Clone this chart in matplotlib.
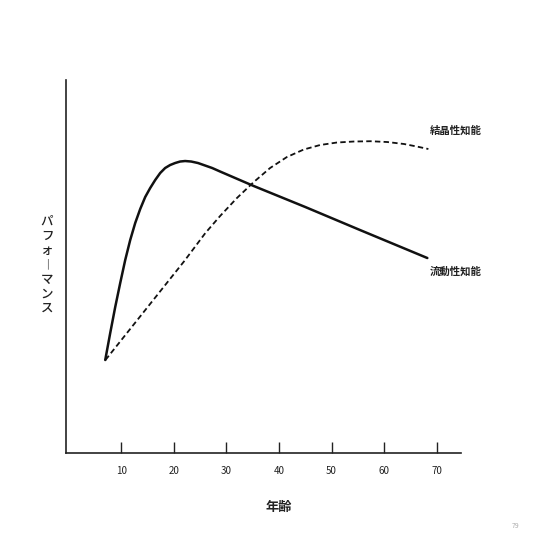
import matplotlib as mpl
mpl.use('agg')
import matplotlib.pyplot as plt

plt.rcParams['font.family'] = ['Noto Sans CJK JP', 'DejaVu Sans']

# age (years) vs performance (arbitrary units)
fluid_age = [6.96, 7.91, 8.86, 9.81, 10.76, 11.71, 12.66, 13.61, 14.56, 15.51, 16.46, 17.41,
             18.35, 19.3, 20.25, 21.2, 22.15, 23.3, 24.6, 25.95, 27.3, 28.8, 35.2, 45, 55.4, 68.2]
fluid_perf = [93, 120, 146, 170, 193, 213, 230, 244, 256, 265, 273, 280,
              285, 288, 290, 291.5, 292, 291.5, 290, 287.5, 285, 281.5, 267, 246, 223, 195]

cryst_age = [7, 12, 17, 22, 26, 28.8, 32, 35.2, 38.3, 41.5, 44.7, 47.8, 51, 54.2,
             57.4, 60.6, 63.8, 66.2, 68.4]
cryst_perf = [93, 126, 159, 192, 220, 237, 255, 271, 285, 296, 303.5, 308, 310.5, 311.5,
              311.8, 311, 309, 306.5, 304]

xticks = [10, 20, 30, 40, 50, 60, 70]

fig = plt.figure(figsize=(5.4, 5.4), dpi=100)
ax = fig.add_axes([0.1222, 0.1611, 0.7315, 0.6907])

ax.plot(fluid_age, fluid_perf, color='#111111', lw=1.8, solid_capstyle='round',
        solid_joinstyle='round')
ax.plot(cryst_age, cryst_perf, color='#111111', lw=1.3, dashes=(3, 1.8))

ax.set_xlim(-0.5, 74.6)
ax.set_ylim(0, 373)
for s in ['top', 'right']:
    ax.spines[s].set_visible(False)
for s in ['left', 'bottom']:
    ax.spines[s].set_linewidth(1.2)
    ax.spines[s].set_color('#222222')

ax.set_yticks([])
ax.set_xticks(xticks)
ax.set_xticklabels([str(t) for t in xticks], fontsize=7, color='#222222')
ax.tick_params(axis='x', direction='in', length=8, width=1, pad=9, color='#222222')

ax.text(68.6, 322, '結晶性知能', fontsize=7.5, fontweight='bold', ha='left', va='center', color='#222222')
ax.text(68.6, 181, '流動性知能', fontsize=7.5, fontweight='bold', ha='left', va='center', color='#222222')

ax.text(0.539, -0.145, '年齢', transform=ax.transAxes, fontsize=9.5, fontweight='bold',
        ha='center', va='center', color='#222222')
ax.text(-0.048, 0.504, '\n'.join('パフォ︱マンス'), transform=ax.transAxes, fontsize=9,
        fontweight='medium', ha='center', va='center', linespacing=1.15, color='#222222')

fig.text(0.955, 0.026, '79', fontsize=5, color='#aaaaaa', ha='center', va='center')

fig.savefig('out.png', dpi=100, facecolor='white')
